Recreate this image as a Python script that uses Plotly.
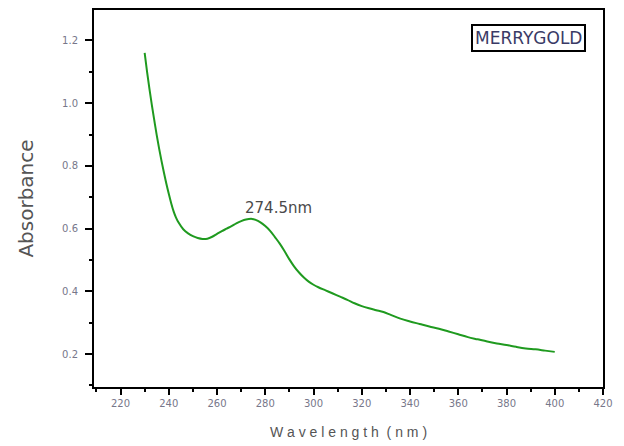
import plotly.graph_objects as go

wavelength = [230, 231, 232, 233, 234, 235, 236, 237, 238, 239, 240, 241, 242, 243, 244, 246, 248,
              250, 252, 254, 256, 258, 260, 262, 264, 266, 268, 270, 272, 274.5, 276, 278,
              280, 282, 284, 286, 288, 290, 292, 294, 296, 298, 300, 302, 305, 308, 311,
              314, 317, 320, 323, 326, 329, 332, 336, 340, 344, 348, 352, 356, 360, 364,
              368, 372, 376, 380, 384, 388, 392, 396, 400]
absorbance = [1.160, 1.100, 1.045, 0.993, 0.945, 0.898, 0.855, 0.815, 0.778, 0.743, 0.711, 0.681,
              0.655, 0.635, 0.620, 0.598, 0.585, 0.576, 0.570, 0.567, 0.568, 0.574, 0.583, 0.592,
              0.600, 0.608, 0.617, 0.624, 0.629, 0.631, 0.628, 0.620, 0.608, 0.593, 0.573,
              0.552, 0.528, 0.502, 0.479, 0.460, 0.444, 0.431, 0.421, 0.413, 0.403, 0.393,
              0.383, 0.373, 0.362, 0.353, 0.346, 0.340, 0.334, 0.325, 0.313, 0.304, 0.296,
              0.288, 0.281, 0.272, 0.263, 0.254, 0.247, 0.240, 0.234, 0.229, 0.223, 0.218,
              0.215, 0.211, 0.207]
x_ticks = [220, 240, 260, 280, 300, 320, 340, 360, 380, 400, 420]
y_ticks = [0.2, 0.4, 0.6, 0.8, 1.0, 1.2]
peak_x, peak_y = 274.5, 0.631
peak_label = "274.5nm"
sample_name = "MERRYGOLD"

fig = go.Figure()
fig.add_trace(go.Scatter(x=wavelength, y=absorbance, mode="lines", line_shape="spline",
                         line=dict(color="#1f9a1f", width=2), showlegend=False))

fig.add_annotation(x=peak_x, y=peak_y, text=peak_label, showarrow=False,
                   xanchor="center", yanchor="middle", yshift=11, xshift=26,
                   font=dict(family="DejaVu Sans", size=15, color="#4a4a4a"))
fig.add_annotation(x=0.853, y=0.926, xref="paper", yref="paper", text=sample_name,
                   xanchor="center", yanchor="middle",
                   showarrow=False, bordercolor="black", borderwidth=2, borderpad=2,
                   bgcolor="white",
                   font=dict(family="DejaVu Sans", size=17, color="#3a3a66"))

tickfont = dict(family="DejaVu Sans", size=10, color="#77778a")
axis_common = dict(showline=True, linecolor="black", linewidth=2, mirror=True,
                   ticks="outside", tickwidth=1.5, tickcolor="black",
                   showgrid=False, zeroline=False, tickfont=tickfont)

fig.update_xaxes(range=[209, 420], tickvals=x_ticks, ticktext=[str(v) for v in x_ticks],
                 ticklen=6,
                 minor=dict(dtick=10, tick0=210, ticks="outside", ticklen=3, tickcolor="black"),
                 title=dict(text="W a v e l e n g t h  ( n m )", standoff=19,
                            font=dict(family="Liberation Sans, Arial", size=14, color="#555555")),
                 **axis_common)
fig.update_yaxes(range=[0.095, 1.297], tickvals=y_ticks, ticktext=[f"{v:.1f}" for v in y_ticks],
                 ticklen=7, ticklabelstandoff=5,
                 minor=dict(dtick=0.1, tick0=0.1, ticks="outside", ticklen=3, tickcolor="black"),
                 title=dict(text="Absorbance", standoff=23,
                            font=dict(family="DejaVu Sans", size=20, color="#555555")),
                 **axis_common)

fig.update_layout(width=624, height=446, margin=dict(l=94, r=21, t=8, b=59),
                  plot_bgcolor="white", paper_bgcolor="white")

fig.write_html("out.html")
